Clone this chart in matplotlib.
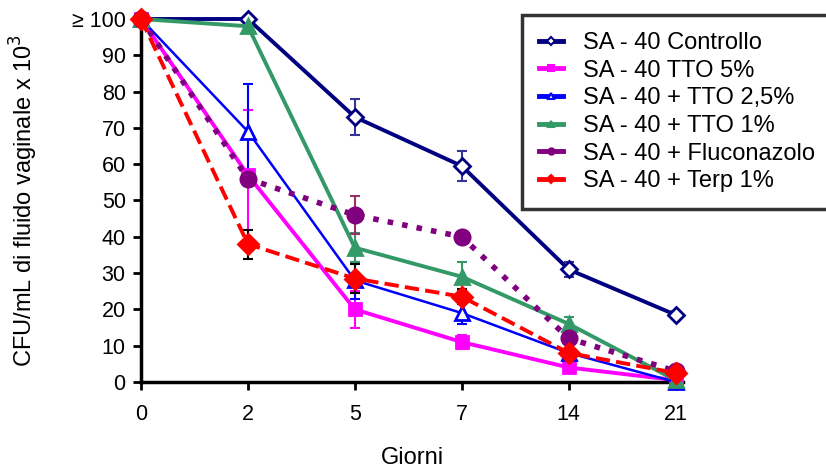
import numpy as np
import matplotlib.pyplot as plt
from matplotlib.lines import Line2D

plt.rcParams['font.family'] = ['Liberation Sans', 'DejaVu Sans']

giorni = ['0', '2', '5', '7', '14', '21']

controllo = [100, 100, 73, 59.5, 31, 18.5]
controllo_err = [0, 0, 5, 4, 2, 1]
tto5 = [100, 57, 20, 11, 4, 0.5]
tto5_err = [0, 18, 5, 2, 1, 0]
tto25 = [100, 69, 28, 19, 8, 0]
tto25_err = [0, 13, 5, 3, 1, 0]
tto1 = [100, 98, 37, 29, 16, 0.5]
tto1_err = [0, 1, 4, 4, 2, 0]
fluconazolo = [100, 56, 46, 40, 12, 3]
fluconazolo_err = [0, 2, 5.3, 1, 1, 0]
terp = [100, 38, 28.5, 23.5, 8, 2.5]
terp_err = [0, 4, 4, 2, 1, 0]

serie = [
    ('SA - 40 Controllo', controllo, controllo_err, '#000080', '#333399', 'D', 'white', 8, 2.8, '-'),
    ('SA - 40 TTO 5%', tto5, tto5_err, '#FF00FF', '#FF00FF', 's', '#FF00FF', 9, 2.8, '-'),
    ('SA - 40 + TTO 2,5%', tto25, tto25_err, '#0000FF', '#0000FF', '^', 'white', 10, 1.8, '-'),
    ('SA - 40 + TTO 1%', tto1, tto1_err, '#339966', '#339966', '^', '#339966', 10, 2.8, '-'),
    ('SA - 40 + Fluconazolo', fluconazolo, fluconazolo_err, '#800080', '#993366', 'o', '#800080', 11, 4, ':'),
    ('SA - 40 + Terp 1%', terp, terp_err, '#FF0000', 'black', 'D', '#FF0000', 10, 2.8, '--'),
]

fig = plt.figure(figsize=(8.26, 4.75), dpi=100)
ax = fig.add_axes([0.1707, 0.1958, 0.827 - 0.1707, 0.96 - 0.1958])

x = np.arange(len(giorni))
handles = []
for nome, vals, err, col, ecol, mk, fc, ms, lw, ls in serie:
    ax.errorbar(x, vals, yerr=err, fmt='none', ecolor=ecol, elinewidth=1.5,
                capsize=3.5, capthick=1.5, clip_on=False, zorder=2)
    ax.plot(x, vals, color=col, linestyle=ls, linewidth=lw, marker=mk,
            markersize=ms, markerfacecolor=fc, markeredgecolor=col,
            markeredgewidth=2, clip_on=False, zorder=3)
    handles.append(Line2D([], [], color=col, linestyle='-', linewidth=3.5,
                          marker=mk, markersize=4.5, markerfacecolor=fc,
                          markeredgecolor=col, markeredgewidth=1.5, label=nome))

ax.set_xlim(0, 5.07)
ax.set_ylim(0, 100)
ax.set_xticks(x)
ax.set_xticklabels(giorni)
ax.set_yticks(np.arange(0, 101, 10))
ax.set_yticklabels([str(v) for v in range(0, 100, 10)] + ['≥ 100'])
ax.tick_params(axis='both', labelsize=15.5, width=2, length=6, direction='out')
ax.tick_params(axis='y', pad=5)
ax.tick_params(axis='x', pad=10)
for s in ['top', 'right']:
    ax.spines[s].set_visible(False)
for s in ['left', 'bottom']:
    ax.spines[s].set_linewidth(2.5)

ax.set_xlabel('Giorni', fontsize=17, labelpad=16)
ax.set_ylabel('CFU/mL di fluido vaginale x 10$^3$', fontsize=17, labelpad=23)

leg = fig.legend(handles=handles, loc='upper left',
                 bbox_to_anchor=(522 / 826, 1 - 15 / 475),
                 fontsize=17, frameon=True, fancybox=False,
                 handlelength=1.0, handletextpad=0.85, labelspacing=0.24,
                 borderpad=0.72, borderaxespad=0)
leg.get_frame().set_edgecolor('black')
leg.get_frame().set_linewidth(2.5)

fig.savefig('out.png', dpi=100)
